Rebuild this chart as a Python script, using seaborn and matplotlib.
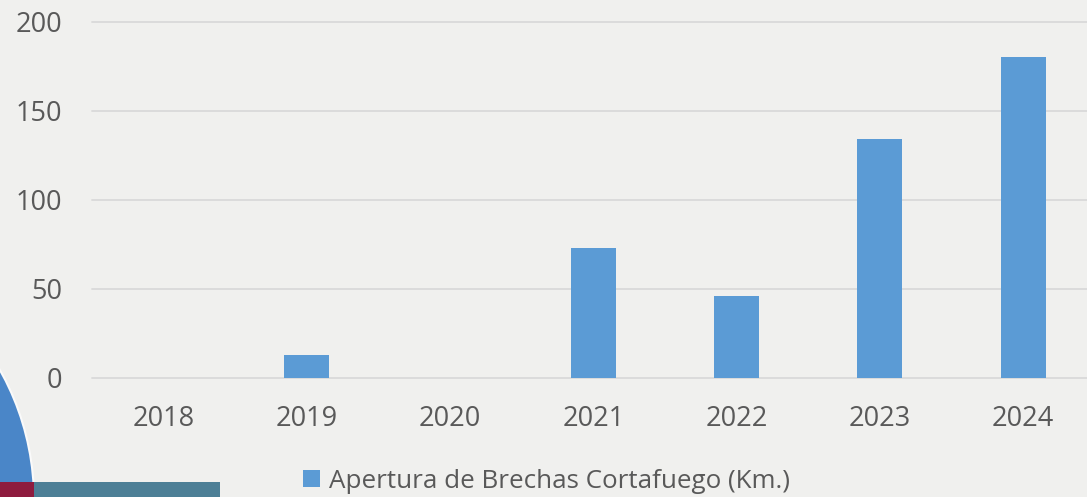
import numpy as np
import pandas as pd
import matplotlib
matplotlib.use("Agg")
import matplotlib.pyplot as plt
from matplotlib.patches import Ellipse, Rectangle
import seaborn as sns

# chart values
years = ["2018", "2019", "2020", "2021", "2022", "2023", "2024"]
km_values = [0, 12.4, 0, 73, 46, 134, 180]
series_name = "Apertura de Brechas Cortafuego (Km.)"
y_ticks = [0, 50, 100, 150, 200]

bar_color = "#5B9BD5"
text_color = "#595959"
grid_color = "#D9D9D9"
bg_color = "#F0F0EE"

sns.set_style("white")
plt.rcParams['font.family'] = ['Open Sans', 'DejaVu Sans']

df = pd.DataFrame({"year": years, "km": km_values, "serie": series_name})

W, H = 1087, 497
fig = plt.figure(figsize=(W / 100, H / 100), dpi=100)
fig.patch.set_facecolor(bg_color)

# decorative shapes bottom-left (pixel sizes converted to figure fractions)
r = 265
fig.patches.append(Ellipse((-231 / W, -3 / H), 2 * r / W, 2 * r / H, transform=fig.transFigure,
                           facecolor="#4A86C8", edgecolor="#FAFAFA", lw=1.5, zorder=0))
fig.patches.append(Rectangle((0, 0), 34 / W, 15 / H, transform=fig.transFigure,
                             facecolor="#8E1B3E", edgecolor="none", zorder=1))
fig.patches.append(Rectangle((34 / W, 0), 186 / W, 15 / H, transform=fig.transFigure,
                             facecolor="#4D7F96", edgecolor="none", zorder=1))

ax = fig.add_axes([91.7 / W, 1 - 377.5 / H, 1 - 91.7 / W, (377.5 - 21.7) / H])
ax.set_facecolor("none")

sns.barplot(data=df, x="year", y="km", hue="serie", palette=[bar_color], saturation=1,
            width=0.314, dodge=False, linewidth=0, ax=ax, zorder=3)

ax.set_xlim(-0.5, -0.5 + (W - 91.7) / 143.3)
ax.set_ylim(0, 200)
ax.set_yticks(y_ticks)
ax.grid(axis="y", color=grid_color, lw=1.3)
ax.set_axisbelow(True)
for gl in ax.get_ygridlines():
    gl.set_clip_on(False)
sns.despine(ax=ax, left=True, bottom=True, right=True, top=True)
ax.tick_params(axis="y", length=0, pad=21, labelsize=19.5, labelcolor=text_color)
ax.tick_params(axis="x", length=0, pad=20, labelsize=19.5, labelcolor=text_color)
ax.set_xlabel("")
ax.set_ylabel("")

sns.move_legend(ax, "center", bbox_to_anchor=(0.503, 0.032), bbox_transform=fig.transFigure,
                frameon=False, title=None, fontsize=18.7, labelcolor=text_color,
                handlelength=0.65, handleheight=0.65, handletextpad=0.35)

fig.savefig("out.png", dpi=100, facecolor=fig.get_facecolor())
